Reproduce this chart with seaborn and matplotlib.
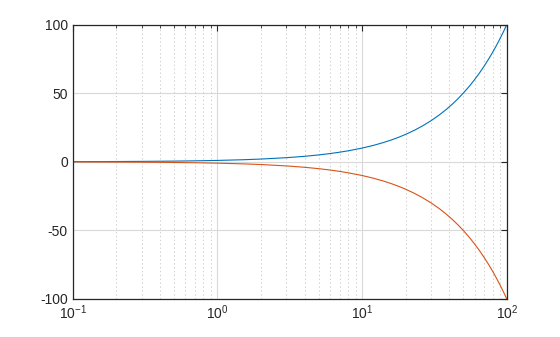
import matplotlib
matplotlib.use("Agg")
import matplotlib.pyplot as plt
import seaborn as sns
import pandas as pd
from matplotlib.ticker import LogLocator, FixedLocator

x_vals = [0.1, 0.15, 0.2, 0.3, 0.5, 0.7, 1, 1.5, 2, 3, 4, 5, 6, 7, 8, 10, 12, 14, 16, 18,
          20, 23, 26, 30, 34, 38, 42, 46, 50, 55, 60, 65, 70, 75, 80, 85, 90, 95, 100]
y_up = [0.1, 0.15, 0.2, 0.3, 0.5, 0.7, 1, 1.5, 2, 3, 4, 5, 6, 7, 8, 10, 12, 14, 16, 18,
        20, 23, 26, 30, 34, 38, 42, 46, 50, 55, 60, 65, 70, 75, 80, 85, 90, 95, 100]
y_down = [-0.1, -0.15, -0.2, -0.3, -0.5, -0.7, -1, -1.5, -2, -3, -4, -5, -6, -7, -8, -10, -12, -14, -16, -18,
          -20, -23, -26, -30, -34, -38, -42, -46, -50, -55, -60, -65, -70, -75, -80, -85, -90, -95, -100]
y_ticks = [-100, -50, 0, 50, 100]
y_ticklabels = ["-100", "-50", "0", "50", "100"]
colors = ["#0072BD", "#D95319"]

sns.set_style("white")
plt.rcParams["font.family"] = ["Liberation Sans", "DejaVu Sans"]
plt.rcParams["mathtext.fontset"] = "custom"
plt.rcParams["mathtext.rm"] = "Liberation Sans"
plt.rcParams["mathtext.it"] = "Liberation Sans"
plt.rcParams["mathtext.default"] = "regular"

df = pd.DataFrame({
    "x": x_vals + x_vals,
    "y": y_up + y_down,
    "s": ["up"] * len(x_vals) + ["down"] * len(x_vals),
})

fig = plt.figure(figsize=(5.6, 3.37), dpi=100)
ax = fig.add_axes([0.13, 0.1128, 0.775, 0.8142])
sns.lineplot(data=df, x="x", y="y", hue="s", palette=colors, estimator=None,
             sort=False, linewidth=0.8, legend=False, ax=ax)
ax.set_xscale("log")
ax.set_xlim(0.1, 100)
ax.set_ylim(-100, 100)
ax.set_yticks(y_ticks)
ax.set_yticklabels(y_ticklabels)
ax.xaxis.set_major_locator(LogLocator(base=10, numticks=10))
ax.xaxis.set_minor_locator(LogLocator(base=10, subs=range(2, 10), numticks=20))
ax.set_xlabel("")
ax.set_ylabel("")

ax.grid(True, which="major", axis="both", color="#d9d9d9", linewidth=0.8, linestyle="-")
ax.grid(True, which="minor", axis="x", color="#d0d0d0", linewidth=0.7, linestyle=(0, (1.5, 2.5)))
ax.set_axisbelow(True)

for sp in ax.spines.values():
    sp.set_visible(True)
    sp.set_color("#262626")
    sp.set_linewidth(0.9)

ax.tick_params(which="both", direction="in", top=True, right=True, colors="#262626",
               labelsize=10, labelcolor="#262626")
ax.tick_params(which="major", length=4, width=0.8)
ax.tick_params(which="minor", length=2.5, width=0.6)
ax.tick_params(axis="y", which="minor", left=False, right=False)

fig.savefig("out.png", dpi=100)
